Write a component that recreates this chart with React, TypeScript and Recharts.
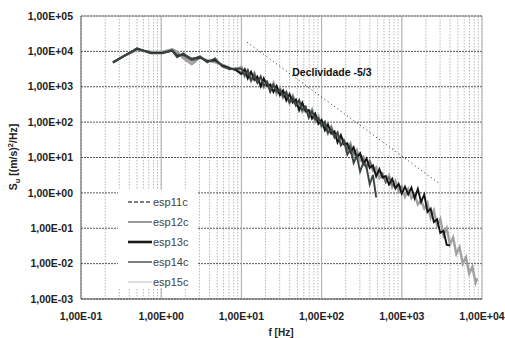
import React from 'react';
import {
  LineChart, Line, XAxis, YAxis, CartesianGrid, ReferenceLine, ReferenceDot, Legend,
} from 'recharts';

// Frequencies (Hz)
const freqHz = [
  0.25, 0.35, 0.5, 0.73, 1.03, 1.37, 1.58, 1.88, 2.4, 3.06, 3.75, 4.7, 5.75, 7.2, 8.5,
  10, 11, 12, 13.2, 14.5, 15.8, 17.4, 19, 20.9, 22.9,
  25.1, 27.5, 30.2, 33.1, 36.3, 39.8, 43.7, 47.9, 52.5, 57.5,
  63.1, 69.2, 75.9, 83.2, 91.2, 100, 110, 120, 132, 145,
  158, 174, 191, 209, 229, 251, 275, 302, 331, 363,
  398, 437, 479, 525, 575, 631, 692, 759, 832, 912,
  1000, 1096, 1202, 1318, 1445, 1585, 1738, 1905, 2089, 2291,
  2512, 2754, 3020, 3311, 3631, 3981, 4365, 4786, 5248, 5754,
  6310, 6918, 7586, 8318, 8700,
];

// Spectral density Su [(m/s)^2/Hz]
const esp11c = [
  4900, 7600, 12200, 8800, 8800, 10700, 6800, 8800, 5900, 7200, 4900, 6300, 3760, 3100, 3300,
  3240, 2130, 2980, 1530, 2000, 1300, 1960, 1060, 1380, 714,
  1140, 730, 830, 536, 715, 360, 460, 290, 417, 216,
  269, 134, 203, 122, 129, 79, 103, 50, 60, 37,
  51, 22, 28.6, 12, 17.5, 7, 11.2, 4, 7, 5.3,
  1.75, 3.2, 0.75,
];
const esp12c = [
  4900, 7600, 11000, 9800, 9600, 11400, 9800, 6500, 4300, 6800, 5600, 5000, 4200, 3400, 3000,
  3700, 1960, 2750, 1470, 2460, 1380, 1810, 970, 1320, 820,
  1280, 620, 940, 490, 660, 345, 560, 310, 390, 197,
  258, 153, 227, 103, 146, 73, 95, 48, 74, 39,
  48, 24, 30, 17.6, 25, 11.4, 16.4, 8.2, 10.4, 5.2,
  8.1, 4.25, 5.25, 2.6, 3.45, 2.1, 3.1, 1.44, 2.16, 1.13,
  1.51, 0.79, 1.28, 0.71, 0.9, 0.47, 0.62, 0.36, 0.52, 0.197,
  0.32, 0.116, 0.183, 0.063, 0.1, 0.035, 0.055, 0.0187, 0.029, 0.0099,
  0.0152, 0.0052, 0.0081, 0.0029, 0.0038,
];
const esp13c = [
  4800, 7500, 12000, 9200, 9000, 10300, 7200, 8400, 6200, 6800, 5200, 5800, 4000, 3300, 3000,
  2260, 3140, 1720, 2650, 1550, 1940, 1015, 1740, 1035, 1170,
  710, 1060, 580, 790, 410, 620, 355, 435, 216, 355,
  200, 220, 126, 175, 90, 116, 59, 86, 47, 55,
  26.6, 43, 23.4, 25.3, 14, 19.5, 10, 13.1, 6.5, 9.4,
  5.1, 6.0, 2.9, 4.7, 2.7, 3.0, 1.72, 2.5, 1.33, 1.8,
  0.95, 1.5, 0.9, 1.4, 0.7, 1.3, 0.55, 0.9, 0.29, 0.36,
  0.15, 0.18, 0.074, 0.085, 0.034, 0.033,
];
const esp14c = [
  4900, 7600, 11500, 9400, 9200, 10900, 8200, 7600, 5400, 6500, 5300, 5300, 4000, 3200, 3100,
  2540, 3010, 2400, 1590, 2370, 1540, 1160, 1550, 1265, 765,
  1140, 715, 650, 757, 578, 374, 542, 345, 247, 316,
  246, 143, 203, 119, 101, 112, 83, 51, 71.5, 43.7,
  30.4, 38.4, 28.6, 16.5, 22.5, 13.2, 11.3, 12.6, 9.1, 5.6,
  7.8, 4.75, 3.4, 4.2, 3.3, 1.95, 2.75, 1.67, 1.5, 1.74,
  1.32,
];
const esp15c = [
  4900, 7600, 11200, 10000, 9700, 11600, 9500, 7000, 4700, 6600, 5500, 4800, 4100, 3500, 2900,
  3100, 2260, 1830, 2550, 1730, 1860, 1130, 1355, 1495, 867,
  840, 976, 796, 568, 440, 600, 396, 417, 241, 276,
  291, 162, 149, 162, 123, 84, 63, 82.5, 52, 53,
  29.6, 33.6, 33.8, 18.7, 16.6, 18, 13.9, 9.45, 7, 9,
  5.7, 5.75, 3.3, 3.7, 3.9, 2.2, 2.0, 2.3,
];

// -5/3 slope reference line endpoints
const slopeStart = { x: 11.8, y: 18000 };
const slopeEnd = { x: 3000, y: 1.77 };
const slopeLabel = 'Declividade -5/3';
const slopeLabelAt = { x: 43, y: 2540 };

// Axis ticks
const xMajorTicks = [0.1, 1, 10, 100, 1000, 10000];
const xMinorTicks = [
  0.2, 0.3, 0.4, 0.5, 0.6, 0.7, 0.8, 0.9,
  2, 3, 4, 5, 6, 7, 8, 9,
  20, 30, 40, 50, 60, 70, 80, 90,
  200, 300, 400, 500, 600, 700, 800, 900,
  2000, 3000, 4000, 5000, 6000, 7000, 8000, 9000,
];
const yTicks = [0.001, 0.01, 0.1, 1, 10, 100, 1000, 10000, 100000];

const seriesNames = ['esp11c', 'esp12c', 'esp13c', 'esp14c', 'esp15c'];
const seriesArrays = [esp11c, esp12c, esp13c, esp14c, esp15c];

const data = freqHz.map((f, i) => {
  const row: any = { f };
  seriesNames.forEach((n, k) => {
    const v = seriesArrays[k][i];
    row[n] = v === undefined ? null : v;
  });
  return row;
});

const FONT = '"Liberation Sans", Arial, sans-serif';

const fmtSci = (v: number) => {
  const e = Math.round(Math.log10(v));
  const sign = e < 0 ? '-' : '+';
  return `1,00E${sign}${String(Math.abs(e)).padStart(2, '0')}`;
};
const isDecade = (v: number) => Math.abs(Math.log10(v) - Math.round(Math.log10(v))) < 1e-9;

const allXTicks = [...xMajorTicks, ...xMinorTicks].sort((a, b) => a - b);

const legendItems = [
  { name: 'esp11c', stroke: '#555555', width: 1.4, dash: '4 2' },
  { name: 'esp12c', stroke: '#9a9a9a', width: 2 },
  { name: 'esp13c', stroke: '#1a1a1a', width: 2.6 },
  { name: 'esp14c', stroke: '#7e7e7e', width: 2 },
  { name: 'esp15c', stroke: '#bcbcbc', width: 1 },
];

const LegendBox = () => (
  <svg width={80} height={98} style={{ display: 'block', background: '#fff' }}>
    {legendItems.map((it, i) => {
      const y = 12 + i * 20;
      return (
        <g key={it.name}>
          <line x1={10} x2={34} y1={y} y2={y} stroke={it.stroke} strokeWidth={it.width}
            strokeDasharray={it.dash} />
          <text x={35} y={y + 4} fontSize={11} fontFamily={FONT} fill="#444">{it.name}</text>
        </g>
      );
    })}
  </svg>
);

const YLabel = () => (
  <text transform="translate(17,157) rotate(-90)" textAnchor="middle" fontFamily={FONT}
    fontWeight="bold" fontSize={10.5} fill="#222">
    S<tspan fontSize={7.5} dy={3}>u</tspan>
    <tspan dy={-3}> [(m/s)</tspan>
    <tspan fontSize={7.5} dy={-4}>2</tspan>
    <tspan dy={4}>/Hz]</tspan>
  </text>
);

const XLabel = () => (
  <text x={281} y={336} textAnchor="middle" fontFamily={FONT} fontWeight="bold"
    fontSize={10} fill="#222">f [Hz]</text>
);

const SlopeText = (props: any) => {
  const vb = props.viewBox || {};
  return (
    <text x={vb.x} y={vb.y + 4} textAnchor="start" fontFamily={FONT} fontWeight="bold"
      fontSize={10.5} fill="#111">{slopeLabel}</text>
  );
};

const tickStyle = { fontSize: 10.5, fontWeight: 'bold', fill: '#222', fontFamily: FONT };

export default function App() {
  return (
    <div style={{ position: 'absolute', left: 0, top: 0, background: '#fff' }}>
      <LineChart width={505} height={338} data={data}
        margin={{ top: 16, right: 23, left: 0, bottom: 0 }}>
        <CartesianGrid horizontal={false} vertical stroke="#b8b8b8" strokeDasharray="1.5 1.5" />
        <CartesianGrid vertical={false} horizontal stroke="#555" strokeDasharray="2 1" />
        <XAxis dataKey="f" type="number" scale="log" domain={[0.1, 10000]} allowDataOverflow
          ticks={allXTicks} interval={0}
          tickFormatter={(v: number) => (isDecade(v) ? fmtSci(v) : '')}
          tickLine={false} tickMargin={8} height={39}
          axisLine={{ stroke: '#555' }} tick={tickStyle} label={<XLabel />} />
        <YAxis type="number" scale="log" domain={[0.001, 100000]} allowDataOverflow
          ticks={yTicks} interval={0} tickFormatter={fmtSci} tickLine={false} width={81}
          axisLine={{ stroke: '#555' }} tick={tickStyle} label={<YLabel />} />
        {xMajorTicks.slice(1).map((v) => (
          <ReferenceLine key={v} x={v} stroke="#b0b0b0" strokeWidth={1} />
        ))}
        <ReferenceLine y={100000} stroke="#999" strokeWidth={1} />
        <ReferenceLine segment={[slopeStart, slopeEnd]} stroke="#222" strokeWidth={1}
          strokeDasharray="1 3" />
        <ReferenceDot x={slopeLabelAt.x} y={slopeLabelAt.y} r={0} fill="none" stroke="none"
          label={<SlopeText />} />
        <Line dataKey="esp15c" stroke="#bdbdbd" strokeWidth={1.4} dot={false} activeDot={false}
          isAnimationActive={false} />
        <Line dataKey="esp12c" stroke="#a0a0a0" strokeWidth={2.4} dot={false} activeDot={false}
          isAnimationActive={false} />
        <Line dataKey="esp14c" stroke="#6a6a6a" strokeWidth={1.7} dot={false} activeDot={false}
          isAnimationActive={false} />
        <Line dataKey="esp13c" stroke="#141414" strokeWidth={1.9} dot={false} activeDot={false}
          isAnimationActive={false} />
        <Line dataKey="esp11c" stroke="#3b4545" strokeWidth={1.9} dot={false} activeDot={false}
          isAnimationActive={false} />
        <Legend layout="horizontal" verticalAlign="middle" align="center"
          wrapperStyle={{ position: 'absolute', left: 118, top: 190, width: 80, height: 98 }}
          content={() => <LegendBox />} />
      </LineChart>
    </div>
  );
}
